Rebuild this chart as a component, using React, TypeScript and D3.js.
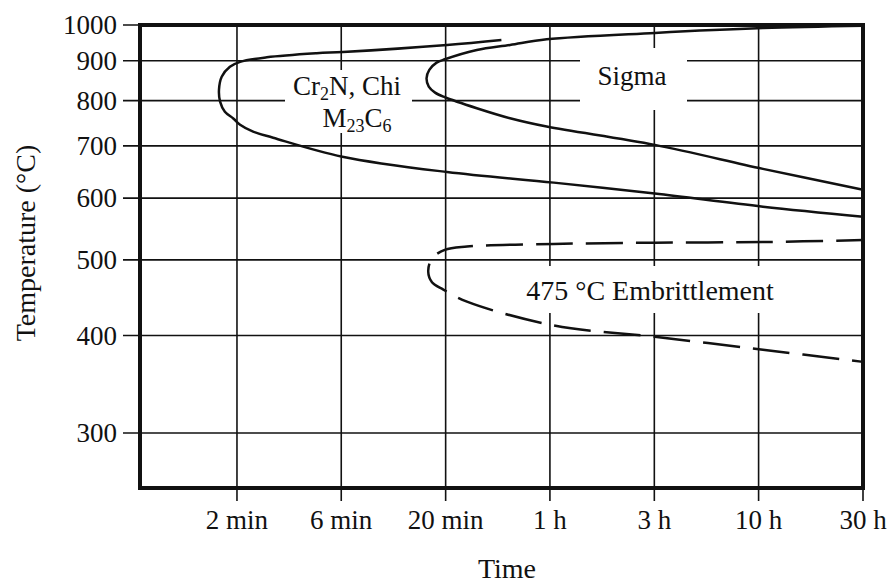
import React from "react";
import * as d3 from "d3";

// Time axis (minutes, log scale, half-decade ticks)
const timeTickMinutes = [2, 6.32, 20, 63.2, 200, 632, 2000];
const timeTickLabels = ["2 min", "6 min", "20 min", "1 h", "3 h", "10 h", "30 h"];
// Temperature axis (°C, log scale)
const tempTicks = [1000, 900, 800, 700, 600, 500, 400, 300];

// Cr2N, Chi, M23C6 precipitation curve (upper branch -> nose -> lower branch)
const cr2nMinutes = [37, 20.3, 6.44, 4.82, 2.78, 2.07, 1.85, 1.69, 1.64, 1.66, 1.75, 1.92, 2.07, 2.39, 2.98, 6.4, 20.3, 66, 201, 663, 2000];
const cr2nTemps = [957, 943, 923.5, 920, 909, 897, 884, 858.5, 826, 797.5, 774, 759, 745, 730, 717, 678, 648, 628, 608, 585, 568];

// Sigma curve
const sigmaMinutes = [2000, 663, 201, 61, 40.7, 28.2, 19.85, 18.1, 16.7, 16.2, 16.6, 17.8, 19.85, 28.2, 40.7, 61, 201, 663, 2000];
const sigmaTemps = [998, 991, 977, 958.7, 942.8, 928.9, 903.8, 894.8, 875.8, 854.6, 833.7, 819.1, 807.9, 782.2, 759.4, 741, 702, 654, 615];

// 475 °C embrittlement curve (dashed)
const embrMinutes = [2000, 663, 201, 66, 25.3, 19.8, 17.2, 16.5, 17.2, 19.5, 25.3, 66, 201, 663, 2000];
const embrTemps = [530, 527, 526, 524, 520, 515, 502, 483, 468, 458, 442, 412, 398.5, 383.5, 370];

const W = 889;
const H = 585;
const L = 140, R = 863, T = 25, B = 488;
const FONT = "'Liberation Serif', 'Times New Roman', serif";

export default function App() {
  const x = d3.scaleLog().domain([0.686, 2000]).range([L, R]);
  const y = d3.scaleLog().domain([1000, 255]).range([T, B]);

  const line = d3
    .line<[number, number]>()
    .x((d) => x(d[0]))
    .y((d) => y(d[1]))
    .curve(d3.curveCatmullRom.alpha(0.5));

  const zip = (a: number[], b: number[]) => a.map((v, i) => [v, b[i]] as [number, number]);

  return (
    <svg width={W} height={H} style={{ position: "absolute", left: 0, top: 0, background: "#fff" }}>
      <rect x={0} y={0} width={W} height={H} fill="#fff" />
      {/* grid */}
      <g stroke="#111" strokeWidth={1.6}>
        {timeTickMinutes.map((t, i) => (
          <line key={"vx" + i} x1={x(t)} x2={x(t)} y1={T} y2={B + 13} />
        ))}
        {tempTicks.map((v, i) => (
          <line key={"hy" + i} x1={L - 17} x2={R} y1={y(v)} y2={y(v)} />
        ))}
      </g>
      {/* label background boxes */}
      <g fill="#fff">
        <rect x={285} y={70} width={127} height={63} />
        <rect x={580} y={48} width={107} height={62} />
        <rect x={505} y={266} width={290} height={47} />
      </g>
      {/* curves */}
      <g fill="none" stroke="#111" strokeWidth={2.5}>
        <path d={line(zip(cr2nMinutes, cr2nTemps)) || ""} />
        <path d={line(zip(sigmaMinutes, sigmaTemps)) || ""} />
        <path d={line(zip(embrMinutes, embrTemps)) || ""} strokeDasharray="37 13" strokeDashoffset={10} />
      </g>
      {/* frame */}
      <rect x={L} y={T} width={R - L} height={B - T} fill="none" stroke="#111" strokeWidth={4} />
      {/* tick labels */}
      <g fontFamily={FONT} fontSize={27} fill="#111">
        {tempTicks.map((v, i) => (
          <text key={"ty" + i} x={117} y={y(v)} dy="0.34em" textAnchor="end">
            {v}
          </text>
        ))}
        {timeTickMinutes.map((t, i) => (
          <text key={"tx" + i} x={x(t)} y={529} textAnchor="middle">
            {timeTickLabels[i]}
          </text>
        ))}
      </g>
      {/* axis titles */}
      <g fontFamily={FONT} fontSize={28} fill="#111">
        <text x={507} y={578} textAnchor="middle">Time</text>
        <text transform="translate(35,243) rotate(-90)" textAnchor="middle">Temperature (°C)</text>
      </g>
      {/* annotations */}
      <g fontFamily={FONT} fontSize={27} fill="#111" textAnchor="middle">
        <text x={347} y={95}>
          Cr<tspan fontSize={18} dy={5}>2</tspan>
          <tspan dy={-5}>N, Chi</tspan>
        </text>
        <text x={357} y={127}>
          M<tspan fontSize={18} dy={5}>23</tspan>
          <tspan dy={-5}>C</tspan>
          <tspan fontSize={18} dy={5}>6</tspan>
        </text>
        <text x={632} y={85}>Sigma</text>
        <text x={650} y={300} fontSize={28}>475 °C Embrittlement</text>
      </g>
    </svg>
  );
}
